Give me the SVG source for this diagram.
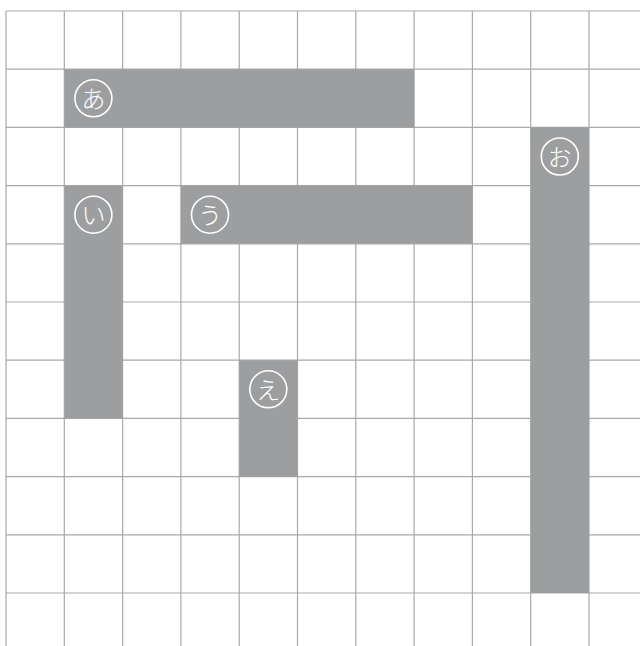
<svg xmlns="http://www.w3.org/2000/svg" width="640" height="646" viewBox="0 0 640 646">
<style>
.g{stroke:#a9a9a9;stroke-width:1.2;fill:none}
.b{fill:#9d9ea0}
.c{fill:none;stroke:#fff;stroke-width:1.6}
.t{fill:#fff;font-family:"Noto Sans CJK JP",sans-serif;font-size:24px;text-anchor:middle;dominant-baseline:central;font-weight:300}
</style>
<rect width="640" height="646" fill="#fff"/>
<g id="grid">
<path class="g" d="M6,11V646M64.3,11V646M122.6,11V646M180.9,11V646M239.2,11V646M297.5,11V646M355.8,11V646M414.1,11V646M472.4,11V646M530.7,11V646M589,11V646"/>
<path class="g" d="M6,11H640M6,69.2H640M6,127.4H640M6,185.6H640M6,243.8H640M6,302H640M6,360.2H640M6,418.4H640M6,476.6H640M6,534.8H640M6,593H640"/>
</g>
<g id="a">
<rect class="b" x="64.3" y="69.2" width="349.8" height="58.2"/>
<circle class="c" cx="93.4" cy="98.3" r="18.5"/>
<text class="t" x="93.4" y="97.3">あ</text>
</g>
<g id="i">
<rect class="b" x="64.3" y="185.6" width="58.3" height="232.8"/>
<circle class="c" cx="93.4" cy="214.7" r="18.5"/>
<text class="t" x="93.4" y="213.7">い</text>
</g>
<g id="u">
<rect class="b" x="180.9" y="185.6" width="291.5" height="58.2"/>
<circle class="c" cx="210" cy="214.7" r="18.5"/>
<text class="t" x="210" y="213.7">う</text>
</g>
<g id="e">
<rect class="b" x="239.2" y="360.2" width="58.3" height="116.4"/>
<circle class="c" cx="268.3" cy="389.3" r="18.5"/>
<text class="t" x="268.3" y="388.3">え</text>
</g>
<g id="o">
<rect class="b" x="530.7" y="127.4" width="58.3" height="465.6"/>
<circle class="c" cx="559.8" cy="156.5" r="18.5"/>
<text class="t" x="559.8" y="155.5">お</text>
</g>
</svg>
